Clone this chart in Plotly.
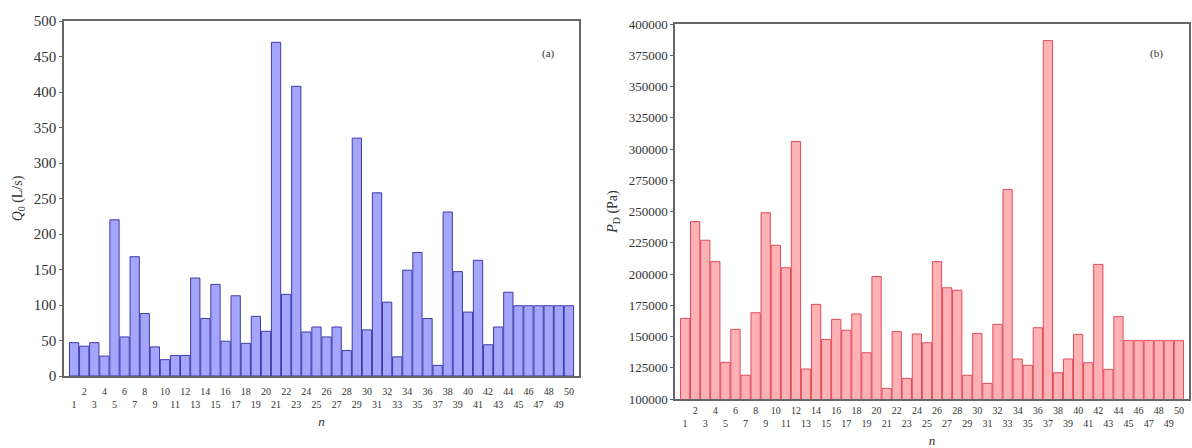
import plotly.graph_objects as go

n = list(range(1, 51))
q0 = [47, 42, 47, 28, 220, 55, 168, 88, 41, 23,
      29, 29, 138, 81, 129, 49, 113, 46, 84, 63,
      470, 115, 408, 62, 69, 55, 69, 36, 335, 65,
      258, 104, 27, 149, 174, 81, 15, 231, 147, 90,
      163, 44, 69, 118, 99, 99, 99, 99, 99, 99]
pd_vals = [164500, 241900, 227000, 209900, 129300, 155700, 119000, 169000, 249000, 223000,
           205000, 306000, 124000, 175700, 147700, 163700, 155000, 168000, 137000, 198000,
           108500, 153900, 116500, 152000, 145000, 209900, 189000, 187000, 119000, 152500,
           112500, 159700, 267700, 132000, 127000, 157000, 386700, 121000, 132000, 151700,
           129000, 207700, 123700, 165900, 146700, 146700, 146700, 146700, 146700, 146700]
x_ticktext = [str(i) if i % 2 == 0 else " <br>" + str(i) for i in n]
yl_ticks = [0, 50, 100, 150, 200, 250, 300, 350, 400, 450, 500]
yr_ticks = list(range(100000, 400001, 25000))

FONT = "Liberation Serif"
W, H = 1192, 448

fig = go.Figure()
fig.add_trace(go.Bar(x=n, y=q0, xaxis="x", yaxis="y", width=0.92,
                     marker=dict(color="rgb(165,165,252)",
                                 line=dict(color="rgb(60,60,170)", width=1))))
fig.add_trace(go.Bar(x=n, y=pd_vals, xaxis="x2", yaxis="y2", width=0.92,
                     marker=dict(color="rgb(255,178,182)",
                                 line=dict(color="rgb(225,75,85)", width=1))))

axis_common = dict(showline=True, mirror=True, linecolor="#666", linewidth=1.5,
                   showgrid=False, zeroline=False, automargin=False)


def xax(domain, anchor, tlen, standoff):
    return dict(axis_common, domain=domain, anchor=anchor, range=[0, 51],
                tickmode="array", tickvals=n, ticktext=x_ticktext,
                ticks="outside", ticklen=tlen, tickcolor="rgba(0,0,0,0)", tickangle=0,
                tickfont=dict(family=FONT, size=10, color="#333"),
                title=dict(text="<i>n</i>", font=dict(family=FONT, size=13, color="#333"),
                           standoff=standoff))


fig.update_layout(
    width=W, height=H,
    margin=dict(l=0, r=0, t=0, b=0),
    paper_bgcolor="white", plot_bgcolor="white",
    showlegend=False,
    xaxis=xax([64 / W, 579 / W], "y", 5, 8),
    yaxis=dict(axis_common, domain=[1 - 376 / H, 1 - 21 / H], anchor="x",
               range=[0, 500], tickvals=yl_ticks, ticks="outside", ticklen=3,
               tickcolor="#666",
               tickfont=dict(family=FONT, size=15, color="#333"),
               title=dict(text="<i>Q</i><sub>0</sub> (L/s)",
                          font=dict(family=FONT, size=14, color="#333"), standoff=8)),
    xaxis2=xax([675 / W, 1189 / W], "y2", 1, 8),
    yaxis2=dict(axis_common, domain=[1 - 399 / H, 1 - 24 / H], anchor="x2",
                range=[100000, 400000], tickvals=yr_ticks, ticks="outside", ticklen=3,
                tickcolor="#666", tickformat="d",
                tickfont=dict(family=FONT, size=13, color="#333"),
                title=dict(text="<i>P</i><sub>D</sub> (Pa)",
                           font=dict(family=FONT, size=14, color="#333"), standoff=8)),
    annotations=[
        dict(text="(a)", xref="paper", yref="paper", x=548 / W, y=1 - 45 / H,
             showarrow=False, font=dict(family=FONT, size=11, color="#333")),
        dict(text="(b)", xref="paper", yref="paper", x=1165 / W, y=1 - 45 / H,
             showarrow=False, font=dict(family=FONT, size=11, color="#333")),
    ],
)

fig.write_html("out.html")
